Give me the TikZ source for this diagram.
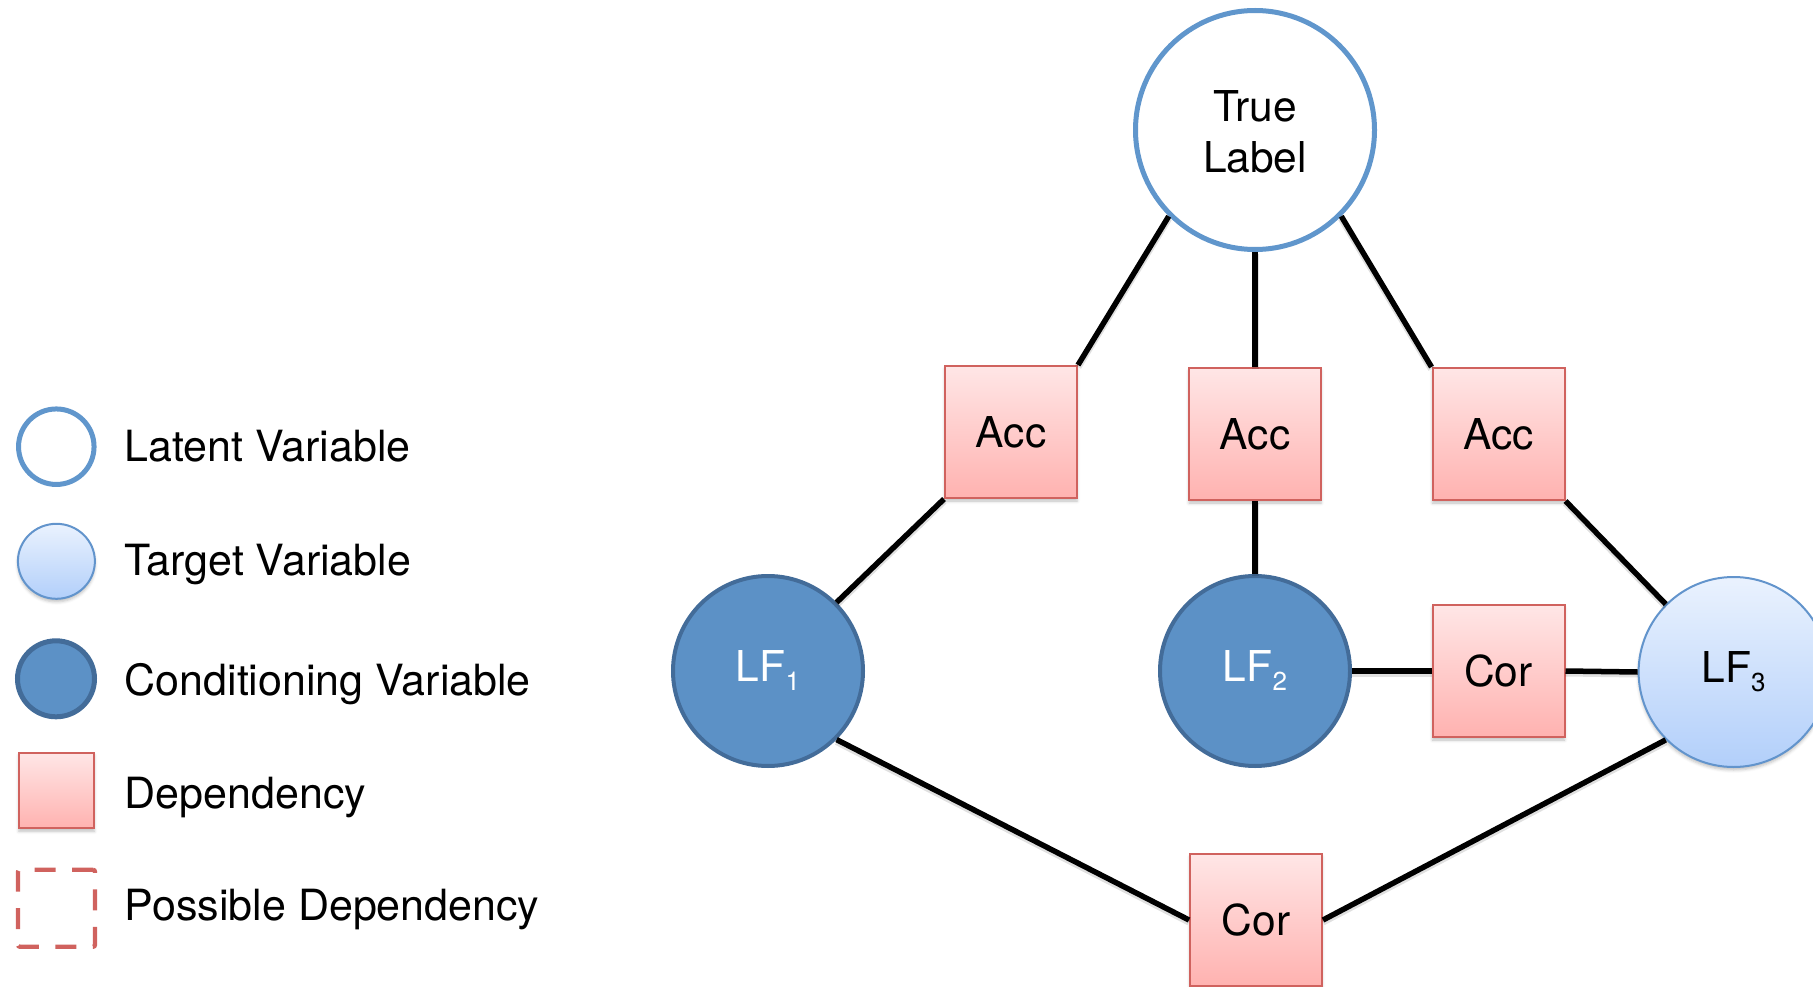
\documentclass[tikz,border=0pt]{standalone}
\usepackage{fontspec}
\setmainfont{TeX Gyre Heros}
\usetikzlibrary{shapes.geometric,shadows.blur}

\definecolor{latentblue}{RGB}{96,150,204}
\definecolor{condfill}{RGB}{92,145,198}
\definecolor{conddraw}{RGB}{67,108,153}
\definecolor{tgttop}{RGB}{234,242,254}
\definecolor{tgtbot}{RGB}{178,207,250}
\definecolor{tgtdraw}{RGB}{98,148,204}
\definecolor{deptop}{RGB}{255,230,230}
\definecolor{depbot}{RGB}{255,178,176}
\definecolor{depdraw}{RGB}{208,98,94}

\newcommand\lfsub[1]{\raisebox{-9pt}{\fontsize{26}{26}\selectfont #1}}

\tikzset{
  txt/.style={font=\fontsize{42.5}{51}\selectfont, inner sep=0pt},
  softshadow/.style={blur shadow={shadow xshift=0pt, shadow yshift=-3pt, shadow blur radius=3pt, shadow opacity=25}},
  latentvar/.style={circle, draw=latentblue, line width=5pt, fill=white, minimum size=239pt, txt, align=center, text height=86.3pt},
  condvar/.style={circle, draw=conddraw, line width=4pt, fill=condfill, minimum size=190pt, txt, text=white},
  targetvar/.style={circle, draw=tgtdraw, line width=2pt, top color=tgttop, bottom color=tgtbot, minimum size=190pt, txt, softshadow},
  depbox/.style={rectangle, draw=depdraw, line width=2pt, top color=deptop, bottom color=depbot, minimum size=132pt, txt, softshadow},
  link/.style={line width=5.5pt, black,
    preaction={draw=black, draw opacity=0.12, line width=7pt, transform canvas={yshift=-2pt}}},
  legtxt/.style={font=\fontsize{43}{51}\selectfont, anchor=base west, inner sep=0pt}
}

\begin{document}
\begin{tikzpicture}[x=1pt, y=-1pt]
  \useasboundingbox (0,0) rectangle (1813,987);

  % graph nodes
  \node[latentvar] (tl) at (1255,130) {True\\Label};
  \node[depbox] (acc1) at (1011,432) {Acc};
  \node[depbox] (acc2) at (1255,434) {Acc};
  \node[depbox] (acc3) at (1498.5,434) {Acc};
  \node[condvar] (lf1) at (768,671) {LF\lfsub{1}};
  \node[condvar] (lf2) at (1255,671) {LF\lfsub{2}};
  \node[depbox] (cor1) at (1498.5,671) {Cor};
  \node[targetvar] (lf3) at (1733.6,672) {LF\lfsub{3}};
  \node[depbox] (cor2) at (1256,920) {Cor};

  % connectors
  \draw[link] (tl.225) -- (acc1.north east);
  \draw[link] (tl.south) -- (acc2.north);
  \draw[link] (tl.315) -- (acc3.north west);
  \draw[link] (acc1.south west) -- (lf1.45);
  \draw[link] (acc2.south) -- (lf2.north);
  \draw[link] (acc3.south east) -- (lf3.135);
  \draw[link] (lf2.east) -- (cor1.west);
  \draw[link] (cor1.east) -- (lf3.west);
  \draw[link] (lf1.-45) -- (cor2.west);
  \draw[link] (lf3.225) -- (cor2.east);

  % legend symbols
  \node[circle, draw=latentblue, line width=5pt, fill=white, minimum size=75.5pt, inner sep=0pt] (kLatent) at (56.3,446.7) {};
  \node[ellipse, draw=tgtdraw, line width=2pt, top color=tgttop, bottom color=tgtbot, minimum width=77pt, minimum height=75pt, inner sep=0pt, softshadow] (kTarget) at (56.4,561.3) {};
  \node[ellipse, draw=conddraw, line width=5pt, fill=condfill, minimum width=77pt, minimum height=76pt, inner sep=0pt] (kCond) at (56,678.8) {};
  \node[rectangle, draw=depdraw, line width=2pt, top color=deptop, bottom color=depbot, minimum size=75.5pt, inner sep=0pt, softshadow] (kDep) at (56.6,790.5) {};
  \node[rectangle, draw=depdraw, line width=4.3pt, dash pattern=on 21pt off 16.5pt, rounded corners=2pt, minimum size=77pt, inner sep=0pt] (kPoss) at (56.5,908.3) {};

  % legend labels
  \node[legtxt] (tLatent) at (124.5,461) {Latent Variable};
  \node[legtxt] (tTarget) at (124.5,575) {Target Variable};
  \node[legtxt] (tCond) at (124.5,695) {Conditioning Variable};
  \node[legtxt] (tDep) at (124.5,808.3) {Dependency};
  \node[legtxt] (tPoss) at (124.5,920.7) {Possible Dependency};
\end{tikzpicture}
\end{document}
